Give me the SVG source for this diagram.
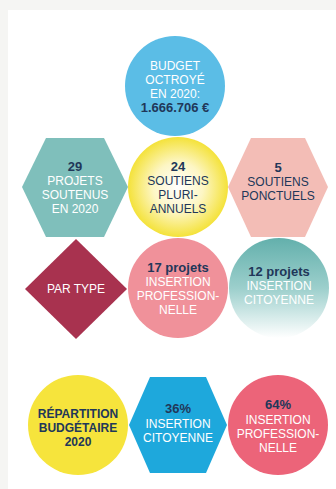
<svg xmlns="http://www.w3.org/2000/svg" width="336" height="489" viewBox="0 0 336 489">
<defs>
<radialGradient id="gYellow" cx="0.5" cy="0.5" r="0.5">
<stop offset="0" stop-color="#ffffff"/>
<stop offset="0.5" stop-color="#fdf6c4"/>
<stop offset="1" stop-color="#f4e23a"/>
</radialGradient>
<linearGradient id="gTeal" x1="0" y1="0" x2="0" y2="1">
<stop offset="0" stop-color="#63b0ac"/>
<stop offset="0.5" stop-color="#9ccfcc"/>
<stop offset="1" stop-color="#ffffff"/>
</linearGradient>
</defs>
<style>
text{font-family:"Liberation Sans",Arial,sans-serif;font-size:12px;text-anchor:middle}
.w{fill:#ffffff}
.n{fill:#213759}
.b{font-weight:bold}
.big{font-size:13px}
</style>
<rect x="0" y="0" width="336" height="489" fill="#f5f5f3"/>
<rect x="8" y="10" width="328" height="479" fill="#ffffff"/>

<g id="budget">
<circle cx="175" cy="86" r="50" fill="#5bbde6"/>
<text x="175" y="70" class="w">BUDGET</text>
<text x="175" y="84" class="w">OCTROYÉ</text>
<text x="175" y="98" class="w">EN 2020:</text>
<text x="175" y="112" class="n b big">1.666.706 €</text>
</g>

<g id="projets-soutenus">
<polygon points="22,187 46,138 104,138 128,187 104,237 46,237" fill="#7fbfbb"/>
<text x="75" y="171" class="n b big">29</text>
<text x="75" y="185" class="w">PROJETS</text>
<text x="75" y="199" class="w">SOUTENUS</text>
<text x="75" y="213" class="w">EN 2020</text>
</g>

<g id="soutiens-pluriannuels">
<circle cx="178" cy="187" r="50" fill="url(#gYellow)"/>
<text x="178" y="171" class="n b big">24</text>
<text x="178" y="185" class="n">SOUTIENS</text>
<text x="178" y="199" class="n">PLURI-</text>
<text x="178" y="213" class="n">ANNUELS</text>
</g>

<g id="soutiens-ponctuels">
<polygon points="228,187 251,138 305,138 328,187 305,237 251,237" fill="#f3bdb6"/>
<text x="278" y="172" class="n b big">5</text>
<text x="278" y="186" class="n">SOUTIENS</text>
<text x="278" y="200" class="n">PONCTUELS</text>
</g>

<g id="par-type">
<polygon points="76,239 127,289 76,339 25,289" fill="#a8324f"/>
<text x="76" y="293" class="w">PAR TYPE</text>
</g>

<g id="insertion-pro">
<circle cx="178" cy="288" r="50" fill="#f0919a"/>
<text x="178" y="272" class="n b big">17 projets</text>
<text x="178" y="286" class="w">INSERTION</text>
<text x="178" y="300" class="w">PROFESSION-</text>
<text x="178" y="314" class="w">NELLE</text>
</g>

<g id="insertion-citoyenne">
<circle cx="279" cy="288" r="50" fill="url(#gTeal)"/>
<text x="279" y="276" class="n b big">12 projets</text>
<text x="279" y="290" class="w">INSERTION</text>
<text x="279" y="304" class="w">CITOYENNE</text>
</g>

<g id="repartition">
<circle cx="78" cy="425" r="50" fill="#f6e43c"/>
<text x="78" y="418" class="n b">RÉPARTITION</text>
<text x="78" y="432" class="n b">BUDGÉTAIRE</text>
<text x="78" y="446" class="n b">2020</text>
</g>

<g id="pct-citoyenne">
<polygon points="129,425 150,377 206,377 227,425 206,473 150,473" fill="#1ea8dc"/>
<text x="178" y="413" class="n b big">36%</text>
<text x="178" y="428" class="w">INSERTION</text>
<text x="178" y="442" class="w">CITOYENNE</text>
</g>

<g id="pct-pro">
<circle cx="278" cy="425" r="50" fill="#ec6479"/>
<text x="278" y="409" class="n b big">64%</text>
<text x="278" y="424" class="w">INSERTION</text>
<text x="278" y="438" class="w">PROFESSION-</text>
<text x="278" y="452" class="w">NELLE</text>
</g>

<g id="connectors"></g>
</svg>
